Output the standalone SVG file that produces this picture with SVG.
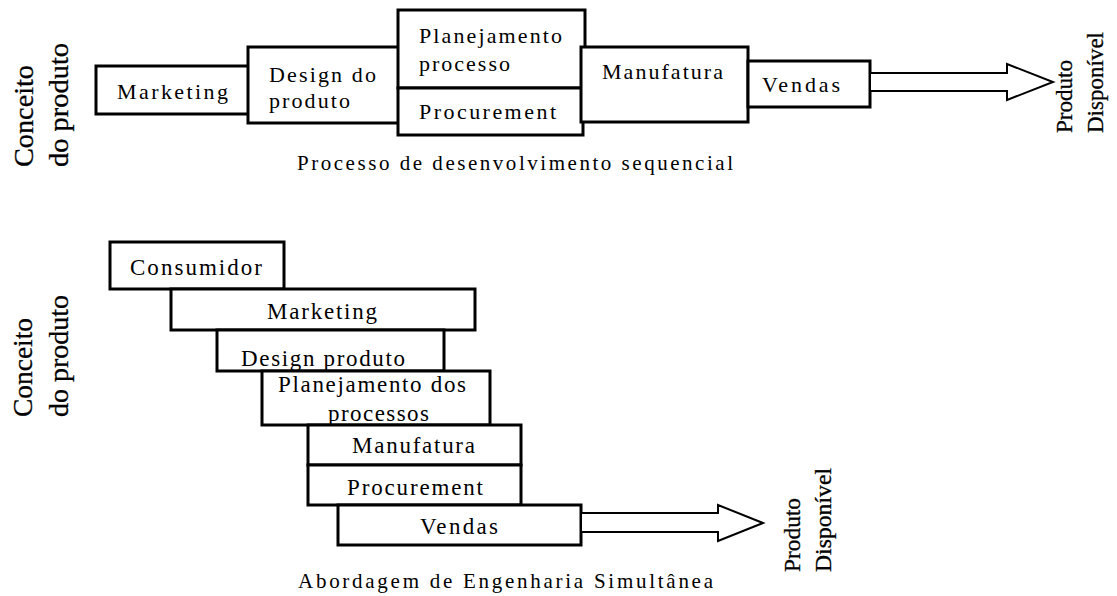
<svg xmlns="http://www.w3.org/2000/svg" width="1117" height="596" viewBox="0 0 1117 596">
<style>
.box{fill:#fff;stroke:#000;stroke-width:3}
.arr{fill:#fff;stroke:#000;stroke-width:2;stroke-linejoin:miter}
text{font-family:'Liberation Serif','DejaVu Serif','Noto Serif',serif;fill:#000}
.t{font-size:22px}
.tb{font-size:23px}
.cap{font-size:21px}
.vl{font-size:28px;stroke:#000;stroke-width:0.3}
.vr{font-size:23px;stroke:#000;stroke-width:0.3}
</style>
<rect width="1117" height="596" fill="#fff"/>

<!-- Top: sequential process -->
<g id="seq-conceito">
<text class="vl" transform="translate(33,167) rotate(-90)" textLength="102" lengthAdjust="spacingAndGlyphs">Conceito</text>
<text class="vl" transform="translate(68,167) rotate(-90)" textLength="124" lengthAdjust="spacingAndGlyphs">do produto</text>
</g>
<g id="seq-marketing">
<rect class="box" x="96" y="66" width="153" height="48"/>
<text class="t" x="117" y="99" textLength="111" lengthAdjust="spacing">Marketing</text>
</g>
<g id="seq-design">
<rect class="box" x="248" y="47" width="151" height="76"/>
<text class="t" x="269" y="82" textLength="107" lengthAdjust="spacing">Design do</text>
<text class="t" x="269" y="108" textLength="81" lengthAdjust="spacing">produto</text>
</g>
<g id="seq-planejamento">
<rect class="box" x="398" y="10" width="187" height="78"/>
<text class="t" x="419" y="43" textLength="143" lengthAdjust="spacing">Planejamento</text>
<text class="t" x="419" y="71" textLength="91" lengthAdjust="spacing">processo</text>
</g>
<g id="seq-procurement">
<rect class="box" x="398" y="88" width="185" height="47"/>
<text class="t" x="419" y="119" textLength="137" lengthAdjust="spacing">Procurement</text>
</g>
<g id="seq-manufatura">
<rect class="box" x="581" y="47" width="167" height="75"/>
<text class="t" x="602" y="79" textLength="121" lengthAdjust="spacing">Manufatura</text>
</g>
<g id="seq-vendas">
<rect class="box" x="748" y="61" width="122" height="46"/>
<text class="t" x="762" y="92" textLength="78" lengthAdjust="spacing">Vendas</text>
</g>
<g id="seq-disponivel">
<text class="vr" transform="translate(1072,133) rotate(-90)" textLength="73" lengthAdjust="spacingAndGlyphs">Produto</text>
<text class="vr" transform="translate(1103,133) rotate(-90)" textLength="101" lengthAdjust="spacingAndGlyphs">Disponível</text>
</g>
<text id="seq-caption" class="cap" x="297" y="170" textLength="436" lengthAdjust="spacing">Processo de desenvolvimento sequencial</text>

<!-- Bottom: simultaneous engineering -->
<g id="sim-conceito">
<text class="vl" transform="translate(32,417) rotate(-90)" textLength="99" lengthAdjust="spacingAndGlyphs">Conceito</text>
<text class="vl" transform="translate(68,417) rotate(-90)" textLength="122" lengthAdjust="spacingAndGlyphs">do produto</text>
</g>
<g id="sim-consumidor">
<rect class="box" x="110" y="242" width="174" height="47"/>
<text class="tb" x="130" y="275" textLength="132" lengthAdjust="spacing">Consumidor</text>
</g>
<g id="sim-marketing">
<rect class="box" x="171" y="289" width="304" height="41"/>
<text class="tb" x="267" y="319" textLength="110" lengthAdjust="spacing">Marketing</text>
</g>
<g id="sim-design">
<rect class="box" x="217" y="330" width="227" height="41"/>
<text class="tb" x="241" y="366" textLength="164" lengthAdjust="spacing">Design produto</text>
</g>
<g id="sim-planejamento">
<rect class="box" x="262" y="371" width="228" height="54"/>
<text class="tb" x="278" y="392" textLength="188" lengthAdjust="spacing">Planejamento dos</text>
<text class="tb" x="328" y="421" textLength="101" lengthAdjust="spacing">processos</text>
</g>
<g id="sim-manufatura">
<rect class="box" x="308" y="425" width="213" height="40"/>
<text class="tb" x="352" y="453" textLength="123" lengthAdjust="spacing">Manufatura</text>
</g>
<g id="sim-procurement">
<rect class="box" x="308" y="465" width="213" height="40"/>
<text class="tb" x="347" y="495" textLength="136" lengthAdjust="spacing">Procurement</text>
</g>
<g id="sim-vendas">
<rect class="box" x="338" y="505" width="243" height="40"/>
<text class="tb" x="420" y="534" textLength="78" lengthAdjust="spacing">Vendas</text>
</g>
<g id="sim-disponivel">
<text class="vr" transform="translate(800,572) rotate(-90)" textLength="74" lengthAdjust="spacingAndGlyphs">Produto</text>
<text class="vr" transform="translate(831,572) rotate(-90)" textLength="104" lengthAdjust="spacingAndGlyphs">Disponível</text>
</g>
<text id="sim-caption" class="cap" x="298" y="588" textLength="415" lengthAdjust="spacing">Abordagem de Engenharia Simultânea</text>

<g id="connectors">
<polygon class="arr" points="870,73 1007,73 1007,64 1053,82 1007,100 1007,91 870,91"/>
<polygon class="arr" points="581,513 718,513 718,505 763,523 718,541 718,532 581,532"/>
</g>
</svg>
